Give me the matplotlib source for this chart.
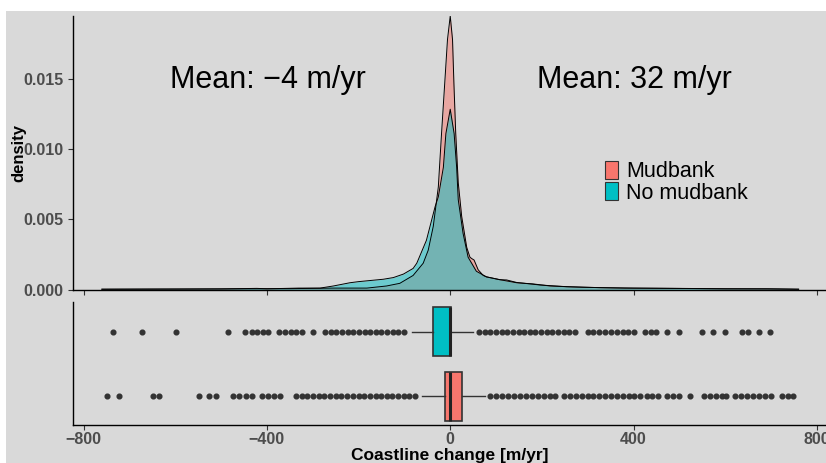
import matplotlib
matplotlib.use("Agg")
from matplotlib import pyplot as plt
from matplotlib.patches import Patch, Rectangle

plt.rcParams['font.family'] = ['Liberation Sans', 'DejaVu Sans']

groups = ["Mudbank", "No mudbank"]
colors = ["#F8766D", "#00BFC4"]
mean_labels = ["Mean: \u22124 m/yr", "Mean: 32 m/yr"]
mean_x = [-398, 401]
mean_y = 0.01495

# density curves
mud_x = [-760, -600, -450, -350, -255, -182, -139, -110, -81, -59, -48, -37,
         -26, -19, -12, -6, 0, 5, 8, 12, 17.5, 25, 36, 43, 47, 52, 61, 72,
         79, 108, 123, 145, 196, 254, 290, 380, 472, 600, 690, 760]
mud_d = [0.00002, 0.00003, 0.00005, 0.00006, 0.0001, 0.0001, 0.00025,
         0.00044, 0.001, 0.00187, 0.0028, 0.0045, 0.0073, 0.0111, 0.0147,
         0.0178, 0.01948, 0.0178, 0.0147, 0.0111, 0.0076, 0.0052, 0.0030,
         0.0023, 0.0022, 0.0021, 0.0014, 0.0010, 0.0009, 0.0007, 0.00068,
         0.0005, 0.00032, 0.0002, 0.00016, 0.0001, 0.00008, 0.00005,
         0.00005, 0.00002]
nomud_x = [-760, -650, -500, -422, -400, -330, -284, -255, -219, -200, -146,
           -124, -102, -81, -73, -52, -33, -26, -15, -9.5, 0, 8.5, 14, 17.5,
           28, 39, 57, 79, 108, 145, 180, 218, 254, 327, 400, 500, 600, 700,
           760]
nomud_d = [0.00002, 0.00003, 0.00004, 0.00008, 0.00005, 0.0001, 0.0001,
           0.00025, 0.00048, 0.00056, 0.00073, 0.00085, 0.0011, 0.0015,
           0.00187, 0.0035, 0.0059, 0.0066, 0.0087, 0.0111, 0.01284, 0.0111,
           0.0087, 0.0064, 0.0040, 0.0023, 0.0013, 0.0009, 0.0007, 0.00048,
           0.0004, 0.00025, 0.0002, 0.00013, 0.0001, 0.00008, 0.00005,
           0.00004, 0.00002]

# boxplot summaries
mud_box = dict(q1=-12, med=0, q3=26, whislo=-62, whishi=75)
nomud_box = dict(q1=-37, med=0, q3=1, whislo=-84, whishi=50)

mud_out = [-748, -722, -648, -635, -548, -526, -511, -473, -460, -446, -433,
           -411, -398, -385, -372, -337, -324, -312, -300, -287, -275, -262,
           -250, -238, -225, -213, -200, -188, -176, -163, -151, -138, -126,
           -114, -101, -89, -76,
           87, 100, 113, 126, 139, 152, 165, 178, 191, 204, 217, 228, 248,
           261, 274, 287, 300, 312, 325, 338, 351, 364, 377, 390, 402, 415,
           429, 441, 454, 474, 487, 500, 523, 553, 566, 579, 592, 601, 622,
           635, 648, 661, 674, 687, 700, 723, 736, 748]
nomud_out = [-735, -672, -598, -485, -447, -433, -421, -409, -397, -373,
             -361, -348, -336, -324, -299, -273, -261, -249, -236, -224,
             -212, -199, -187, -175, -162, -150, -137, -125, -113, -100,
             63, 75, 87, 100, 112, 124, 137, 149, 161, 174, 186, 198, 211,
             223, 235, 248, 260, 272, 300, 312, 325, 338, 351, 363, 376,
             388, 401, 425, 437, 450, 474, 499, 549, 574, 599, 637, 649,
             674, 698]

xticks = [-800, -400, 0, 400, 800]
yticks = [0.000, 0.005, 0.010, 0.015]


def main():
    fig = plt.figure(figsize=(8.26, 4.63), dpi=100, facecolor="white")
    fig.patches.append(Rectangle((6 / 826, 0), 1, (463 - 11) / 463,
                                 transform=fig.transFigure,
                                 facecolor="#d9d9d9", edgecolor="none",
                                 zorder=-10))

    ax1 = fig.add_axes([73 / 826, (463 - 289.5) / 463, 753 / 826, 273.5 / 463])
    ax2 = fig.add_axes([73 / 826, (463 - 425) / 463, 753 / 826, 123 / 463])
    xlim = (-823, 819.8)

    for ax in (ax1, ax2):
        ax.set_facecolor("none")
        ax.set_xlim(xlim)
        ax.set_xticks(xticks)
        for s in ("top", "right"):
            ax.spines[s].set_visible(False)
        for s in ("left", "bottom"):
            ax.spines[s].set_color("black")
            ax.spines[s].set_linewidth(1.0)
        ax.tick_params(length=3.5, width=0.8, color="#333333",
                       labelcolor="#4d4d4d", labelsize=11.5)

    # density panel
    for x, d, c in [(mud_x, mud_d, colors[0]), (nomud_x, nomud_d, colors[1])]:
        ax1.fill_between(x, d, 0, color=c, alpha=0.5, linewidth=0)
        ax1.plot(x, d, color="black", linewidth=0.7)
    ax1.set_ylim(0, 0.01948)
    ax1.set_yticks(yticks)
    ax1.set_yticklabels([f"{v:.3f}" for v in yticks], fontweight="bold")
    ax1.set_xticklabels([])
    ax1.set_ylabel("density", fontsize=12, fontweight="bold")
    ax1.yaxis.set_label_coords(-0.062, 0.5)
    for lab, mx in zip(mean_labels, mean_x):
        ax1.text(mx, mean_y, lab, fontsize=22, ha="center", va="center")

    handles = [Patch(facecolor=c, edgecolor="#333333", linewidth=0.8)
               for c in colors]
    ax1.legend(handles, groups, loc="upper left",
               bbox_to_anchor=(0.707, 0.47), frameon=False, fontsize=15.5,
               handlelength=0.6, handleheight=0.9, handletextpad=0.35,
               labelspacing=0.0, borderpad=0, borderaxespad=0)

    # boxplot panel
    stats = []
    for b, fl in [(mud_box, mud_out), (nomud_box, nomud_out)]:
        s = dict(b)
        s["fliers"] = fl
        stats.append(s)
    bp = ax2.bxp(stats, positions=[1, 2], vert=False, widths=0.75,
                 patch_artist=True, showcaps=False,
                 boxprops=dict(edgecolor="#333333", linewidth=1.2),
                 medianprops=dict(color="#222222", linewidth=2.2),
                 whiskerprops=dict(color="#333333", linewidth=1.0),
                 flierprops=dict(marker="o", markerfacecolor="#333333",
                                 markeredgecolor="#333333", markersize=3.4))
    for patch, c in zip(bp["boxes"], colors):
        patch.set_facecolor(c)
    ax2.set_ylim(0.556, 2.46)
    ax2.set_yticks([])
    ax2.set_xticklabels([("\u2212" + str(-t)) if t < 0 else str(t)
                         for t in xticks], fontweight="bold")
    ax2.tick_params(axis="x", pad=1.5)
    ax2.set_xlabel("Coastline change [m/yr]", fontsize=12.5,
                   fontweight="bold", labelpad=1)

    fig.savefig("out.png", dpi=100, facecolor=fig.get_facecolor())


if __name__ == "__main__":
    main()
